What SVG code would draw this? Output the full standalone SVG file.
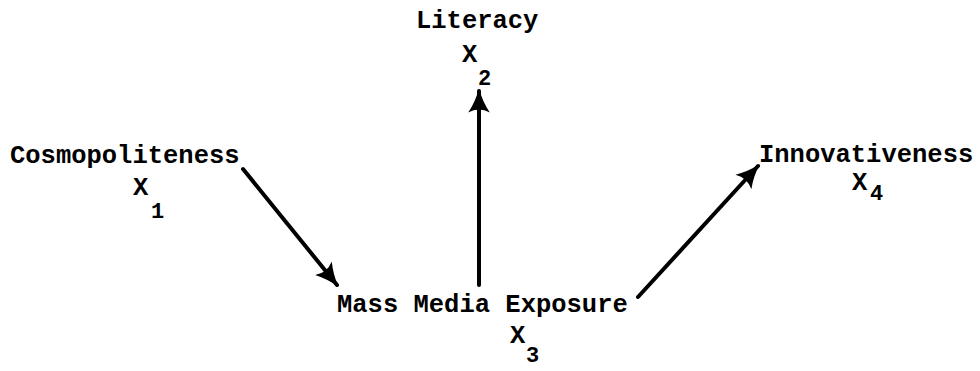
<svg xmlns="http://www.w3.org/2000/svg" width="980" height="371" viewBox="0 0 980 371">
<style>
text{font-family:"Liberation Mono","DejaVu Sans Mono",monospace;font-weight:bold;fill:#000}
.lbl{font-size:25.5px}
.sub{font-size:22px}
.edge{stroke:#000;stroke-width:4;stroke-linecap:round;fill:none}
</style>
<defs>
<marker id="ah" viewBox="0 0 20 20" refX="18" refY="10" markerWidth="6" markerHeight="6" orient="auto" markerUnits="strokeWidth">
<path d="M0,1 Q9,7 20,10 Q9,13 0,19 Q5,10 0,1 Z" fill="#000"/>
</marker>
</defs>
<rect width="980" height="371" fill="#fff"/>
<g id="connectors">
<line class="edge" x1="243" y1="169" x2="337" y2="285" marker-end="url(#ah)"/>
<line class="edge" x1="479" y1="285" x2="479" y2="91" marker-end="url(#ah)"/>
<line class="edge" x1="638" y1="297" x2="758" y2="166" marker-end="url(#ah)"/>
</g>
<g id="cosmopoliteness">
<text class="lbl" x="10" y="163">Cosmopoliteness</text>
<text class="lbl" x="133" y="195">X</text>
<text class="sub" x="151" y="218">1</text>
</g>
<g id="literacy">
<text class="lbl" x="416" y="28">Literacy</text>
<text class="lbl" x="462" y="62">X</text>
<text class="sub" x="478" y="85">2</text>
</g>
<g id="mass-media">
<text class="lbl" x="337" y="312">Mass Media Exposure</text>
<text class="lbl" x="510" y="343">X</text>
<text class="sub" x="526" y="362">3</text>
</g>
<g id="innovativeness">
<text class="lbl" x="759" y="162">Innovativeness</text>
<text class="lbl" x="852" y="190">X</text>
<text class="sub" x="870" y="200">4</text>
</g>
</svg>
